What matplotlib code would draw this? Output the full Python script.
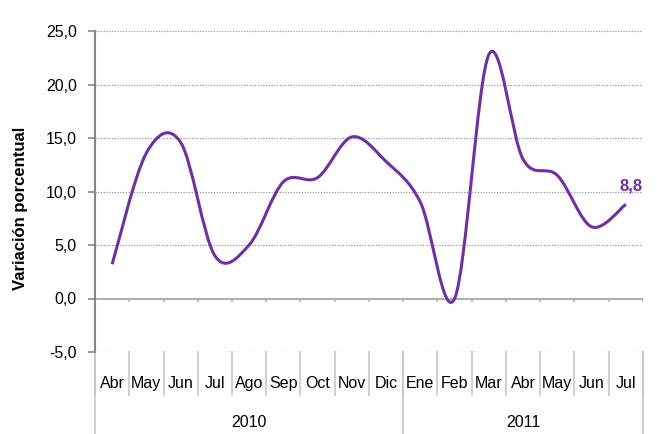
import numpy as np
import matplotlib.pyplot as plt
from matplotlib.path import Path
from matplotlib.patches import PathPatch

plt.rcParams["font.family"] = ["Liberation Sans", "DejaVu Sans"]

months = ["Abr", "May", "Jun", "Jul", "Ago", "Sep", "Oct", "Nov", "Dic",
          "Ene", "Feb", "Mar", "Abr", "May", "Jun", "Jul"]
years = ["2010", "2011"]
year_counts = [9, 7]
variacion = [3.2, 13.6, 14.6, 4.0, 5.0, 10.9, 11.3, 15.1, 12.8,
             9.0, 0.0, 22.8, 13.0, 11.5, 6.7, 8.8]
yticks = [-5, 0, 5, 10, 15, 20, 25]

purple = "#7030A0"
axis_grey = "#868686"
sep_grey = "#C8C8C8"


def smooth_path(x, y):
    # bezier segments like Excel's smoothed line
    pts = np.column_stack([x, y])
    n = len(pts)
    verts = [pts[0]]
    codes = [Path.MOVETO]
    for i in range(n - 1):
        p0 = pts[i - 1] if i > 0 else pts[i]
        p1 = pts[i]
        p2 = pts[i + 1]
        p3 = pts[i + 2] if i + 2 < n else pts[i + 1]
        c1 = p1 + (p2 - p0) / 6
        c2 = p2 - (p3 - p1) / 6
        verts += [c1, c2, p2]
        codes += [Path.CURVE4] * 3
    return Path(verts, codes)


fig = plt.figure(figsize=(6.57, 4.34), dpi=100)
ax = fig.add_axes([95 / 657, (434 - 352) / 434, 548 / 657, 321 / 434])

x = np.arange(len(months)) + 0.5
ax.add_patch(PathPatch(smooth_path(x, variacion), facecolor="none",
                       edgecolor=purple, lw=2.2, capstyle="butt", zorder=3))
ax.text(x[-1] + 0.15, variacion[-1] + 1.0, "8,8", color=purple,
        fontweight="bold", fontsize=12, ha="center", va="bottom")

ax.set_xlim(0, len(months))
ax.set_ylim(-5, 25)
ax.set_yticks(yticks)
ax.set_yticklabels([f"{v:.1f}".replace(".", ",") for v in yticks])
for v in yticks:
    if v != 0:
        ax.axhline(v, color="#999999", lw=0.9, ls=(0, (1, 1.2)), zorder=1)

for s in ["top", "right", "bottom"]:
    ax.spines[s].set_visible(False)
ax.spines["left"].set_color(axis_grey)
ax.spines["left"].set_linewidth(1.5)
ax.tick_params(axis="y", colors=axis_grey, length=5, width=1.2,
               labelcolor="black", labelsize=11.5, pad=8)

# category axis at zero
ax.axhline(0, color="#B0B0B0", lw=1.5, zorder=2)
bounds = np.arange(len(months) + 1)
ax.vlines(bounds, -0.3, 0, color="#B0B0B0", lw=1.2, zorder=2)

ax.set_xticks(x)
ax.set_xticklabels(months)
ax.tick_params(axis="x", length=0, labelsize=11.5, pad=17.5)

trans = ax.get_xaxis_transform()
for b in bounds:
    ax.plot([b, b], [0, -0.135], transform=trans, color=sep_grey, lw=1.2,
            clip_on=False)
edges = np.concatenate([[0], np.cumsum(year_counts)])
for e in edges:
    ax.plot([e, e], [0, -0.26], transform=trans, color=sep_grey, lw=1.2,
            clip_on=False)
for i, yr in enumerate(years):
    ax.text((edges[i] + edges[i + 1]) / 2, -0.22, yr, transform=trans,
            ha="center", va="center", fontsize=11.5)

fig.text(21 / 657, 1 - 208 / 434, "Variación porcentual", rotation=90,
         ha="center", va="center", fontweight="bold", fontsize=12)

fig.savefig("out.png", dpi=100)
